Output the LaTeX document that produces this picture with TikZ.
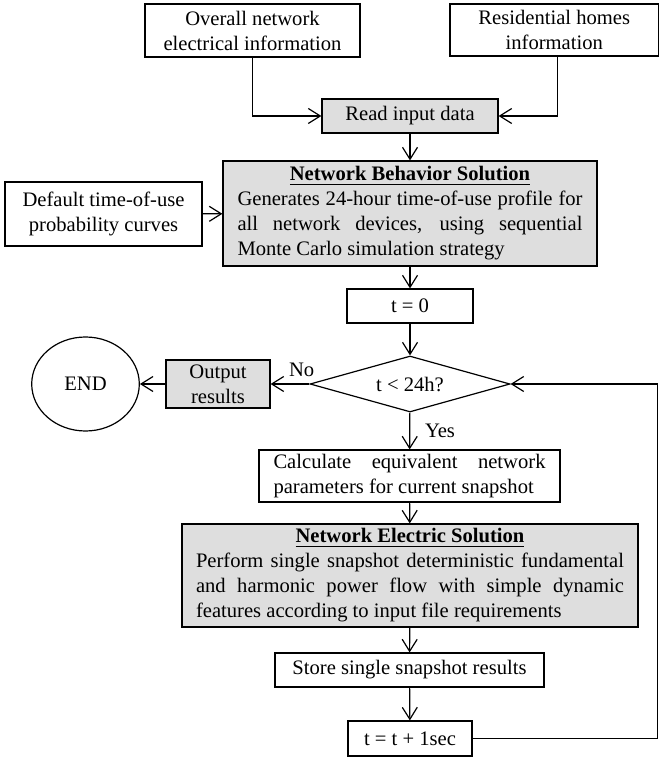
\documentclass[tikz,border=0pt]{standalone}
\usepackage{fontspec}
\setmainfont{Liberation Serif}
\usetikzlibrary{shapes.geometric}
\usetikzlibrary{arrows.meta}

\tikzset{
  txt/.style={font=\fontsize{10.3}{12.5}\selectfont},
  blk/.style={txt, draw, line width=0.6pt, align=center, inner sep=0pt},
  gblk/.style={blk, fill=black!13},
  jblk/.style={align=justify, inner xsep=7.25pt, inner ysep=1pt},
  flow/.style={line width=0.6pt, -{Straight Barb[length=6pt,width=7.5pt]}}
}

\begin{document}
\begin{tikzpicture}[x=0.5pt,y=-0.5pt]
  \useasboundingbox (0,0) rectangle (659,758);
  \node[blk, minimum width=107.5pt, minimum height=26.5pt] (net) at (252.5,30.5) {Overall network\\electrical information};
  \node[blk, minimum width=104.25pt, minimum height=26pt] (homes) at (554.25,30) {Residential homes\\information};
  \node[gblk, minimum width=88pt, minimum height=17pt] (read) at (410,116) {Read input data};
  \node[blk, minimum width=98.5pt, minimum height=32pt] (curves) at (103.5,214) {Default time-of-use\\probability curves};
  \node[gblk, jblk, text width=172.5pt, minimum height=52.5pt] (nbs) at (410,213.5)
    {{\centering\textbf{\underline{Network Behavior Solution}}\par}
     Generates 24-hour time-of-use profile for\linebreak all network devices, using sequential\linebreak Monte Carlo simulation strategy};
  \node[blk, minimum width=63pt, minimum height=17pt] (t0) at (410,306) {t = 0};
  \node[blk, diamond, aspect=3.57, minimum width=100pt, minimum height=28pt] (cond) at (410,384) {t < 24h?};
  \node[gblk, minimum width=52pt, minimum height=24pt] (out) at (218,384) {Output\\results};
  \node[blk, ellipse, minimum width=53.8pt, minimum height=47pt] (end) at (85.5,384) {END};
  \node[blk, jblk, text width=136pt, minimum height=26pt] (calc) at (409.5,476)
    {Calculate equivalent network\linebreak parameters for current snapshot};
  \node[gblk, jblk, inner xsep=7pt, text width=214pt, minimum height=51.5pt] (nes) at (410,575.5)
    {{\centering\textbf{\underline{Network Electric Solution}}\par}
     Perform single snapshot deterministic fundamental\linebreak and harmonic power flow with simple dynamic\linebreak features according to input file requirements};
  \node[blk, minimum width=134.5pt, minimum height=17pt] (store) at (409.5,670) {Store single snapshot results};
  \node[blk, minimum width=62pt, minimum height=17.5pt] (tinc) at (410,738.5) {t = t + 1sec};
  \coordinate (loop) at (657.5,384);

  \path[flow, every node/.style={txt}]
    (read) edge (nbs)
    (curves) edge (nbs)
    (nbs) edge (t0)
    (t0) edge (cond)
    (cond) edge node [above, pos=0.2] {No} (out)
    (out) edge (end)
    (cond) edge node [right=4pt] {Yes} (calc)
    (calc) edge (nes)
    (nes) edge (store)
    (store) edge (tinc);
  \draw[flow] (net) |- (read);
  \draw[flow] ([xshift=1.5pt]homes.south) |- (read);
  \draw[flow] (tinc) -| (loop) -- (cond);
\end{tikzpicture}
\end{document}
